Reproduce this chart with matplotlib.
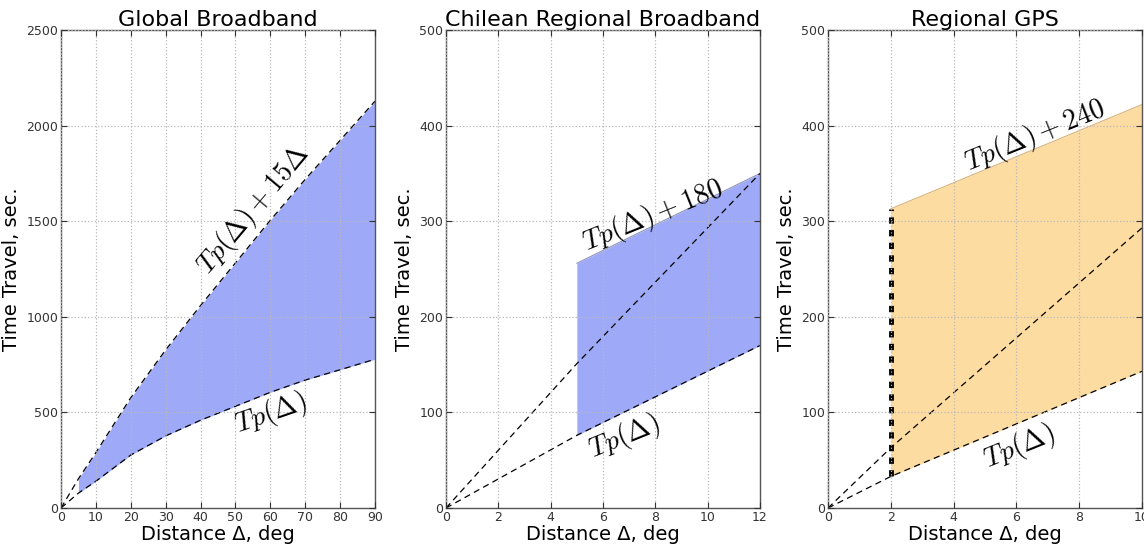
import matplotlib
matplotlib.use("Agg")
import matplotlib.pyplot as plt

plt.rcParams['mathtext.fontset'] = 'cm'
plt.rcParams['font.family'] = ['DejaVu Sans']

# ---- Panel 1: Global Broadband ----
g_dist = [0, 5, 10, 20, 30, 40, 50, 60, 70, 80, 90]
g_tp = [0, 78, 140, 277, 377, 459, 532, 605, 669, 723, 778]
g_upper = [0, 153, 290, 577, 827, 1059, 1282, 1505, 1719, 1923, 2128]
g_fill_start = 5

# ---- Panel 2: Chilean Regional Broadband ----
c_dist = [0, 5, 12]
c_tp = [0, 76, 170]
c_tp15 = [0, 151, 350]
c_upper_dist = [5, 12]
c_upper = [256, 350]
c_lower = [76, 170]

# ---- Panel 3: Regional GPS ----
r_dist = [0, 2, 10]
r_tp = [0, 33, 143]
r_tp15 = [0, 63, 293]
r_upper_dist = [2, 10]
r_upper = [313, 422]
r_lower = [33, 143]

titles = ["Global Broadband", "Chilean Regional Broadband", "Regional GPS"]
xlims = [(0, 90), (0, 12), (0, 10)]
ylims = [(0, 2500), (0, 500), (0, 500)]
xticks = [list(range(0, 91, 10)), list(range(0, 13, 2)), list(range(0, 11, 2))]
yticks = [list(range(0, 2501, 500)), list(range(0, 501, 100)), list(range(0, 501, 100))]

blue = '#9eaaf8'
orange = '#fddca2'

fig = plt.figure(figsize=(11.44, 5.45), dpi=100)
lefts = [61 / 1144, 446 / 1144, 828 / 1144]
width = 314 / 1144
bottom = 1 - 508 / 545
height = (508 - 30) / 545
axes = [fig.add_axes([l, bottom, width, height]) for l in lefts]

math_fs = 20
dash_kw = dict(color='k', lw=0.9, linestyle=(0, (5, 3.5)))

# Panel 1
ax = axes[0]
fx = [d for d in g_dist if d >= g_fill_start]
flo = [v for d, v in zip(g_dist, g_tp) if d >= g_fill_start]
fhi = [v for d, v in zip(g_dist, g_upper) if d >= g_fill_start]
ax.fill_between(fx, flo, fhi, color=blue, lw=0)
ax.plot(g_dist, g_tp, **dash_kw)
ax.plot(g_dist, g_upper, **dash_kw)
ax.text(55, 1560, r'$Tp(\Delta)+15\Delta$', rotation=50, fontsize=math_fs,
        ha='center', va='center')
ax.text(60, 495, r'$Tp(\Delta)$', rotation=19, fontsize=math_fs,
        ha='center', va='center')

# Panel 2
ax = axes[1]
ax.fill_between(c_upper_dist, c_lower, c_upper, color=blue, lw=0)
ax.plot(c_upper_dist, c_upper, color='#8f93b8', lw=0.8)
ax.plot(c_dist, c_tp, **dash_kw)
ax.plot(c_dist, c_tp15, **dash_kw)
ax.text(7.9, 306, r'$Tp(\Delta)+180$', rotation=22, fontsize=math_fs,
        ha='center', va='center')
ax.text(6.8, 74, r'$Tp(\Delta)$', rotation=22, fontsize=math_fs,
        ha='center', va='center')

# Panel 3
ax = axes[2]
ax.fill_between(r_upper_dist, r_lower, r_upper, color=orange, lw=0)
ax.plot(r_upper_dist, r_upper, color='#d8b27a', lw=0.8)
ax.plot(r_dist, r_tp, **dash_kw)
ax.plot(r_dist, r_tp15, **dash_kw)
ax.plot([r_upper_dist[0], r_upper_dist[0]], [r_lower[0], r_upper[0]],
        color='k', lw=3.5, linestyle=(0, (1.3, 1.3)), dash_capstyle='butt')
ax.text(6.6, 389, r'$Tp(\Delta)+240$', rotation=22, fontsize=math_fs,
        ha='center', va='center')
ax.text(6.1, 64, r'$Tp(\Delta)$', rotation=22, fontsize=math_fs,
        ha='center', va='center')

for i, ax in enumerate(axes):
    ax.set_xlim(*xlims[i])
    ax.set_ylim(*ylims[i])
    ax.set_xticks(xticks[i])
    ax.set_yticks(yticks[i])
    ax.set_title(titles[i], fontsize=16, pad=3)
    ax.set_xlabel('Distance \u0394, deg', fontsize=14, labelpad=1)
    ax.set_ylabel('Time Travel, sec.', fontsize=14, labelpad=4)
    ax.grid(True, color='#b8b8b8', linestyle=':', lw=0.9)
    ax.set_axisbelow(False)
    ax.tick_params(direction='in', top=True, right=True, labelsize=9,
                   colors='#333333', length=4, pad=2)
    for s in ax.spines.values():
        s.set_color('#555555')
        s.set_linewidth(1.0)

fig.savefig('out.png', dpi=100)
